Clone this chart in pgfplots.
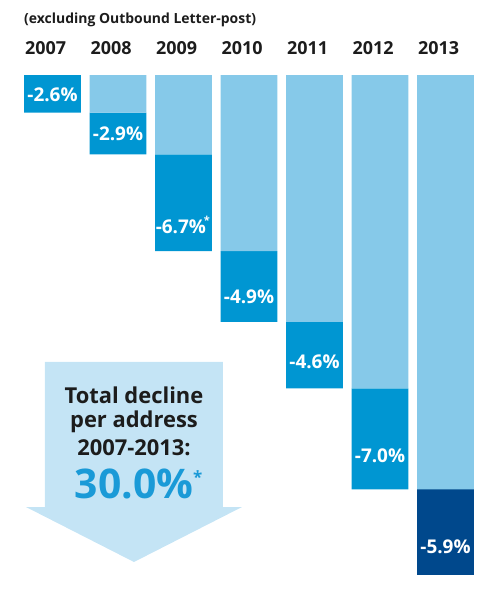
\documentclass[border=0pt]{standalone}
\usepackage{fontspec}
\setmainfont{Open Sans}
\usepackage{pgfplots}
\pgfplotsset{compat=1.18}
\definecolor{lightb}{HTML}{86C9E9}
\definecolor{midb}{HTML}{0096D2}
\definecolor{navyb}{HTML}{00488C}
\definecolor{arrowb}{HTML}{C4E4F5}
\definecolor{bigb}{HTML}{1A9AD7}
\definecolor{txt}{HTML}{1C1C1C}
\tikzset{yr/.style={anchor=west, inner sep=0pt, text=txt, font=\fontsize{18}{20}\selectfont\bfseries},
  vl/.style={inner sep=0pt, text=white, font=\fontsize{19}{21}\selectfont\bfseries},
  arrtxt/.style={inner sep=0pt, text=txt, font=\fontsize{22}{24}\selectfont\bfseries}}
\begin{document}
\begin{tikzpicture}
\begin{axis}[
  scale only axis, width=500bp, height=603bp,
  xmin=-0.8015, xmax=6.832, ymin=-5.194, ymax=36.565,
  y dir=reverse, hide axis, clip=false,
  ybar stacked, bar width=0.87,
]
\path (rel axis cs:0,0) rectangle (rel axis cs:1,1);
% cumulative previous decline (light)
\addplot[fill=lightb, draw=none] coordinates {(0,0) (1,2.6) (2,5.5) (3,12.2) (4,17.1) (5,21.7) (6,28.7)};
% annual decline
\addplot[fill=midb, draw=none] coordinates {(0,2.6) (1,2.9) (2,6.7) (3,4.9) (4,4.6) (5,7.0) (6,0)};
\addplot[fill=navyb, draw=none] coordinates {(0,0) (1,0) (2,0) (3,0) (4,0) (5,0) (6,5.9)};
% anchor points
\coordinate (A1) at (axis cs:-0.1145,19.875);
\coordinate (A2) at (axis cs:2.603,19.875);
\coordinate (A3) at (axis cs:2.603,29.917);
\coordinate (A4) at (axis cs:2.893,29.917);
\coordinate (A5) at (axis cs:1.244,33.726);
\coordinate (A6) at (axis cs:-0.4046,29.917);
\coordinate (A7) at (axis cs:-0.1145,29.917);
\coordinate (T0) at (axis cs:-0.435,-3.81);
\coordinate (Y0) at (axis cs:-0.42,-1.87);
\coordinate (Y1) at (axis cs:0.58,-1.87);
\coordinate (Y2) at (axis cs:1.58,-1.87);
\coordinate (Y3) at (axis cs:2.58,-1.87);
\coordinate (Y4) at (axis cs:3.58,-1.87);
\coordinate (Y5) at (axis cs:4.58,-1.87);
\coordinate (Y6) at (axis cs:5.58,-1.87);
\coordinate (L0) at (axis cs:0,1.385);
\coordinate (L1) at (axis cs:1,4.085);
\coordinate (L2) at (axis cs:1.96,10.39);
\coordinate (L3) at (axis cs:3,15.37);
\coordinate (L4) at (axis cs:4,19.88);
\coordinate (L5) at (axis cs:5,26.38);
\coordinate (L6) at (axis cs:6,32.69);
\coordinate (R1) at (axis cs:1.244,22.16);
\coordinate (R2) at (axis cs:1.244,24.03);
\coordinate (R3) at (axis cs:1.244,25.83);
\coordinate (R4) at (axis cs:1.244,28.32);
\end{axis}
\fill[arrowb] (A1) -- (A2) -- (A3) -- (A4) -- (A5) -- (A6) -- (A7) -- cycle;
\node[anchor=west, inner sep=0pt, text=txt, font=\fontsize{14}{16}\selectfont\bfseries] at (T0) {(excluding Outbound Letter-post)};
\node[yr] at (Y0) {2007};
\node[yr] at (Y1) {2008};
\node[yr] at (Y2) {2009};
\node[yr] at (Y3) {2010};
\node[yr] at (Y4) {2011};
\node[yr] at (Y5) {2012};
\node[yr] at (Y6) {2013};
\node[vl] at (L0) {-2.6\%};
\node[vl] at (L1) {-2.9\%};
\node[vl] at (L2) {-6.7\%\rlap{\hspace{-2bp}\raisebox{9bp}{\fontsize{11}{11}\selectfont *}}};
\node[vl] at (L3) {-4.9\%};
\node[vl] at (L4) {-4.6\%};
\node[vl] at (L5) {-7.0\%};
\node[vl] at (L6) {-5.9\%};
\node[arrtxt] at (R1) {Total decline};
\node[arrtxt] at (R2) {per address};
\node[arrtxt] at (R3) {2007-2013:};
\node[inner sep=0pt, text=bigb, font=\fontsize{41}{43}\selectfont\bfseries] at (R4) {30.0\%\rlap{\raisebox{15bp}{\fontsize{17}{17}\selectfont *}}};
\end{tikzpicture}
\end{document}
